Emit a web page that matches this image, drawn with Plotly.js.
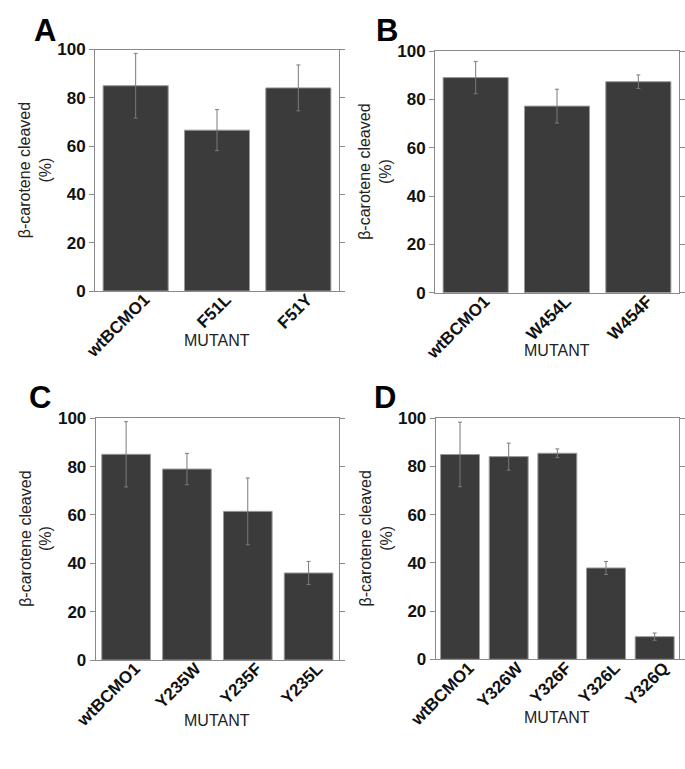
<!DOCTYPE html>
<html>
<head>
<meta charset="utf-8">
<script src="https://cdn.plot.ly/plotly-3.0.1.min.js"></script>
<style>html,body{margin:0;padding:0;background:#fff;}#chart{width:685px;height:769px;}</style>
</head>
<body>
<div id="chart"></div>
<script>
// ---- data ----
const catsA = ['wtBCMO1', 'F51L', 'F51Y'];
const valsA = [85.0, 66.6, 84.1];
const errA  = [13.4, 8.5, 9.5];

const catsB = ['wtBCMO1', 'W454L', 'W454F'];
const valsB = [89.0, 77.2, 87.3];
const errB  = [6.7, 7.0, 2.8];

const catsC = ['wtBCMO1', 'Y235W', 'Y235F', 'Y235L'];
const valsC = [85.1, 79.0, 61.5, 36.0];
const errC  = [13.5, 6.5, 13.8, 4.8];

const catsD = ['wtBCMO1', 'Y326W', 'Y326F', 'Y326L', 'Y326Q'];
const valsD = [85.0, 84.1, 85.5, 37.9, 9.4];
const errD  = [13.4, 5.6, 1.8, 2.7, 1.5];

const yTicks = [0, 20, 40, 60, 80, 100];
const panelLetters = ['A', 'B', 'C', 'D'];
const yTitle = 'β-carotene cleaved<br>(%)';
const xTitle = 'MUTANT';

// ---- layout helpers ----
const W = 685, H = 769;
const FONT = '"Liberation Sans", Arial, Helvetica, sans-serif';
const barColor = '#3b3b3b';
const lineGrey = '#8a8a8a';

function bar(cats, vals, errs, xa, ya) {
  return {
    type: 'bar', x: cats, y: vals, xaxis: xa, yaxis: ya,
    marker: {color: barColor, line: {color: '#9a9a9a', width: 1}},
    error_y: {type: 'data', array: errs, visible: true, color: '#7a7a7a', thickness: 1, width: 2},
    showlegend: false, hoverinfo: 'x+y'
  };
}

const traces = [
  bar(catsA, valsA, errA, 'x', 'y'),
  bar(catsB, valsB, errB, 'x2', 'y2'),
  bar(catsC, valsC, errC, 'x3', 'y3'),
  bar(catsD, valsD, errD, 'x4', 'y4')
];

// pixel boxes of the plot areas [left, right, top, bottom]
const boxes = [
  [95, 339, 49.5, 291],
  [435, 679, 51, 292.7],
  [95.7, 339, 418.3, 660],
  [435.7, 679, 418.3, 659.3]
];
const letterPos = [[45, 30], [387, 30], [40, 397], [385, 397]];
const mutantY = [340, 350, 720, 717];
const yTitleOffset = 60;

function xaxis(b, anchor) {
  return {
    domain: [b[0] / W, b[1] / W], anchor: anchor,
    type: 'category', showline: true, linecolor: lineGrey, linewidth: 1, mirror: true,
    ticks: '', tickangle: -45, showgrid: false, zeroline: false,
    ticklabelstandoff: -9, ticklabelshift: 9,
    tickfont: {family: FONT, size: 17, color: '#111', weight: 'bold'},
    automargin: false, fixedrange: true
  };
}
function yaxis(b, anchor) {
  return {
    domain: [1 - b[3] / H, 1 - b[2] / H], anchor: anchor,
    range: [0, 100], tickvals: yTicks, showline: true, linecolor: lineGrey, linewidth: 1,
    mirror: 'ticks', ticks: 'outside', ticklen: 5, tickcolor: lineGrey, tickwidth: 1,
    showgrid: false, zeroline: false,
    tickfont: {family: FONT, size: 17, color: '#111', weight: 'bold'},
    automargin: false, fixedrange: true
  };
}

const layout = {
  width: W, height: H,
  margin: {l: 0, r: 0, t: 0, b: 0},
  paper_bgcolor: '#fff', plot_bgcolor: '#fff',
  bargap: 0.2,
  font: {family: FONT},
  xaxis: xaxis(boxes[0], 'y'),
  yaxis: yaxis(boxes[0], 'x'),
  xaxis2: xaxis(boxes[1], 'y2'),
  yaxis2: yaxis(boxes[1], 'x2'),
  xaxis3: xaxis(boxes[2], 'y3'),
  yaxis3: yaxis(boxes[2], 'x3'),
  xaxis4: xaxis(boxes[3], 'y4'),
  yaxis4: yaxis(boxes[3], 'x4'),
  annotations: []
};

for (let i = 0; i < 4; i++) {
  const b = boxes[i];
  layout.annotations.push({
    text: '<b>' + panelLetters[i] + '</b>', xref: 'paper', yref: 'paper',
    x: letterPos[i][0] / W, y: 1 - letterPos[i][1] / H, xanchor: 'center', yanchor: 'middle',
    showarrow: false, font: {family: FONT, size: 31, color: '#000'}
  });
  layout.annotations.push({
    text: xTitle, xref: 'paper', yref: 'paper',
    x: (b[0] + b[1]) / 2 / W, y: 1 - mutantY[i] / H, xanchor: 'center', yanchor: 'middle',
    showarrow: false, font: {family: FONT, size: 16, color: '#222'}
  });
  layout.annotations.push({
    text: yTitle, xref: 'paper', yref: 'paper', textangle: -90,
    x: (b[0] - yTitleOffset) / W, y: 1 - (b[2] + b[3]) / 2 / H, xanchor: 'center', yanchor: 'middle',
    showarrow: false, font: {family: FONT, size: 16, color: '#222'}
  });
}

Plotly.newPlot('chart', traces, layout, {displayModeBar: false, staticPlot: true});
</script>
</body>
</html>
